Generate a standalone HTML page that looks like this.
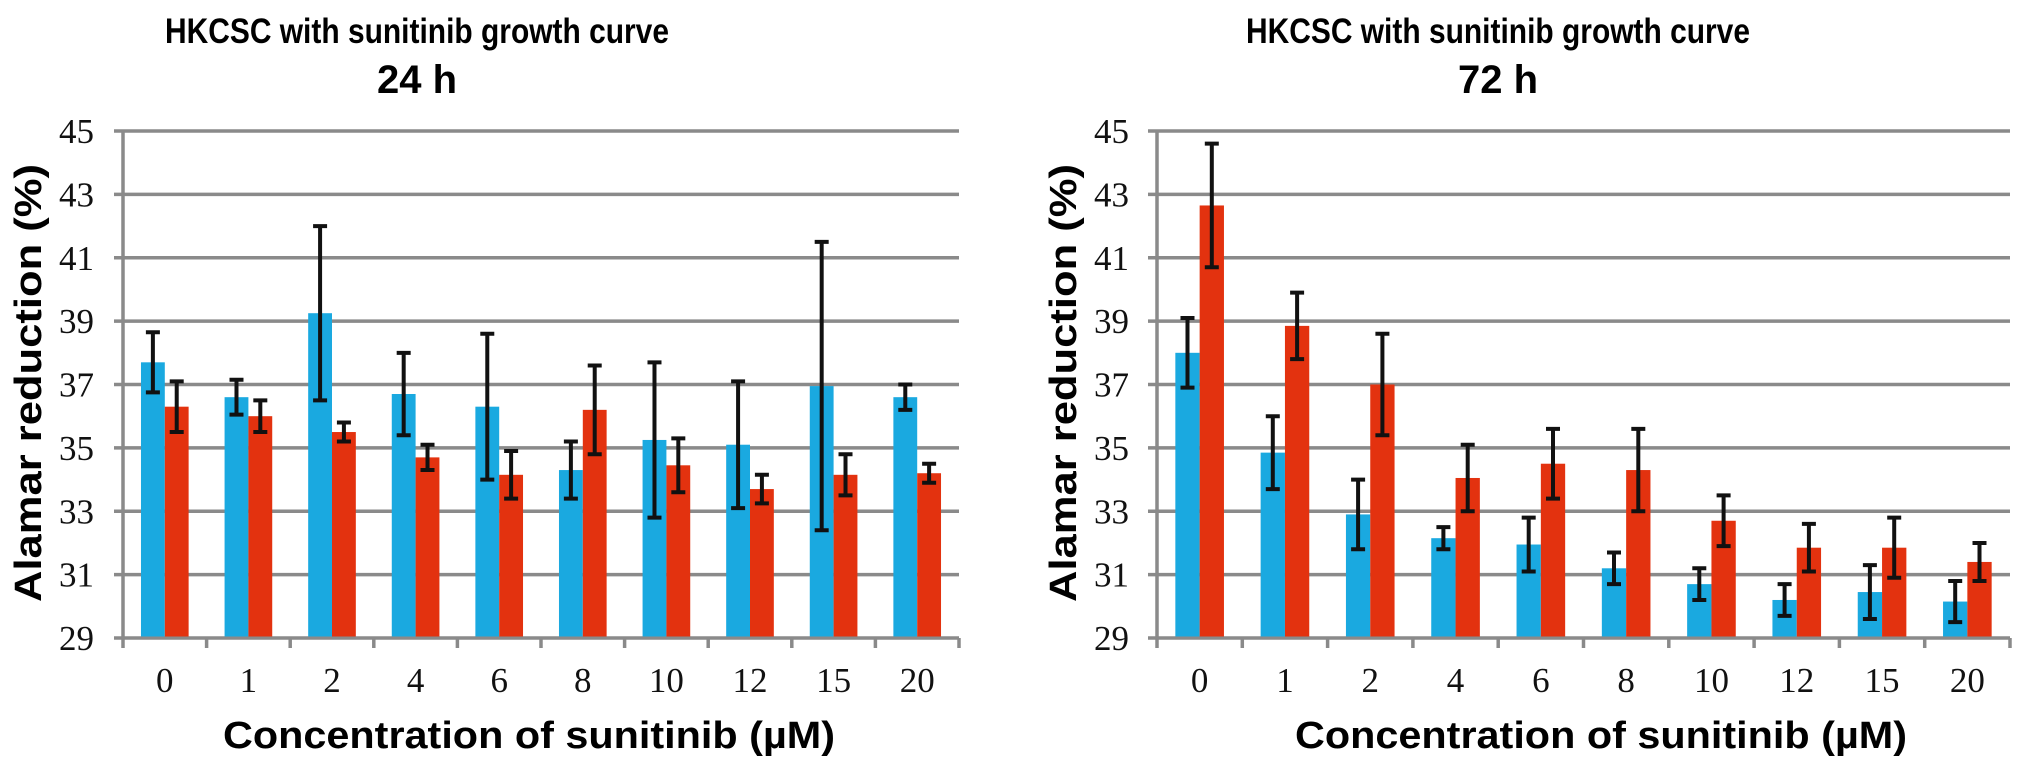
<!DOCTYPE html>
<html><head><meta charset="utf-8"><style>
html,body{margin:0;padding:0;background:#fff;}
svg{display:block;}
.t{font-family:"Liberation Sans",Arial,sans-serif;font-weight:bold;fill:#000;}
.n{font-family:"Liberation Serif","Times New Roman",serif;fill:#111;font-size:35px;}
</style></head><body>
<svg id="svg" width="2031" height="767" viewBox="0 0 2031 767">
</svg>
<script>
const categories = ["0","1","2","4","6","8","10","12","15","20"];
const yTicks = [29,31,33,35,37,39,41,43,45];
const blue24 = [37.7,36.6,39.25,36.7,36.3,34.3,35.25,35.1,36.95,36.6];
const blue24Err = [0.95,0.55,2.75,1.3,2.3,0.9,2.45,2.0,4.55,0.4];
const red24 = [36.3,36.0,35.5,34.7,34.15,36.2,34.45,33.7,34.15,34.2];
const red24Err = [0.8,0.5,0.3,0.4,0.75,1.4,0.85,0.45,0.65,0.3];
const blue72 = [38.0,34.85,32.9,32.15,31.95,31.2,30.7,30.2,30.45,30.15];
const blue72Err = [1.1,1.15,1.1,0.35,0.85,0.5,0.5,0.5,0.85,0.65];
const red72 = [42.65,38.85,37.0,34.05,34.5,34.3,32.7,31.85,31.85,31.4];
const red72Err = [1.95,1.05,1.6,1.05,1.1,1.3,0.8,0.75,0.95,0.6];

const NS="http://www.w3.org/2000/svg";
const svg=document.getElementById('svg');
function mk(tag,attrs,parent){const e=document.createElementNS(NS,tag);for(const k in attrs)e.setAttribute(k,attrs[k]);(parent||svg).appendChild(e);return e;}

function chart(cfg){
  const g=mk('g',{});
  
  
  const x0=cfg.x0,x1=cfg.x1,yTop=131,yBot=638,vmin=29,vmax=45;
  const y=v=>yBot-(v-vmin)/(vmax-vmin)*(yBot-yTop);
  const cw=(x1-x0)/categories.length;
  const xc=i=>x0+cw*i;
  yTicks.forEach(v=>{
    const l=mk('line',{x1:x0-9,x2:x1,y1:y(v),y2:y(v),stroke:'#8a8a8a','stroke-width':3.5},g);
    
    
    const t=mk('text',{x:cfg.labRight,y:y(v)+12,'text-anchor':'end',class:'n'},g);
    t.textContent=v;
    
    
  });
  const ax=mk('line',{x1:x0,x2:x0,y1:yTop,y2:yBot,stroke:'#8a8a8a','stroke-width':3.5},g);
  
  
  for(let i=0;i<=categories.length;i++){
    const tk=mk('line',{x1:xc(i),x2:xc(i),y1:yBot,y2:yBot+10,stroke:'#8a8a8a','stroke-width':3.5},g);
    
    
  }
  const bw=cw*0.285, off=(cw-2*bw)/2;
  categories.forEach((c,i)=>{
    const t=mk('text',{x:xc(i)+cw/2,y:692,'text-anchor':'middle',class:'n'},g);
    t.textContent=c;
    
    
    [[cfg.b,cfg.be,'#1aa9e0',0],[cfg.r,cfg.re,'#e3320f',1]].forEach(([vals,errs,col,k])=>{
      const bx=xc(i)+off+k*bw;
      const r=mk('rect',{x:bx,y:y(vals[i]),width:bw,height:yBot-y(vals[i])-1.5,fill:col},g);
      
      
      const cx=bx+bw/2, hi=y(vals[i]+errs[i]), lo=y(vals[i]-errs[i]);
      const eb=mk('path',{d:`M${cx},${hi}V${lo}M${cx-7},${hi}H${cx+7}M${cx-7},${lo}H${cx+7}`,stroke:'#111','stroke-width':4,fill:'none'},g);
      
      
    });
  });
  const t1=mk('text',{x:cfg.tc,y:43,'text-anchor':'middle',class:'t','font-size':35,textLength:504,lengthAdjust:'spacingAndGlyphs'},g);
  t1.textContent='HKCSC with sunitinib growth curve';
  
  
  const t2=mk('text',{x:cfg.tc,y:93,'text-anchor':'middle',class:'t','font-size':40},g);
  t2.textContent=cfg.sub;
  
  
  const yl=mk('text',{x:0,y:0,'text-anchor':'middle',class:'t','font-size':38,textLength:438,lengthAdjust:'spacingAndGlyphs',transform:`translate(${cfg.ylx},383) rotate(-90)`},g);
  yl.textContent='Alamar reduction (%)';
  
  
  const xl=mk('text',{x:cfg.xlc,y:748,'text-anchor':'middle',class:'t','font-size':38,textLength:612,lengthAdjust:'spacingAndGlyphs'},g);
  xl.textContent='Concentration of sunitinib (\u00b5M)';
  
  
}
chart({name:'chart-24h',x0:123,x1:959,labRight:94,b:blue24,be:blue24Err,r:red24,re:red24Err,tc:417,sub:'24 h',ylx:41,xlc:529});
chart({name:'chart-72h',x0:1157,x1:2010,labRight:1129,b:blue72,be:blue72Err,r:red72,re:red72Err,tc:1498,sub:'72 h',ylx:1076,xlc:1601});
</script>
</body></html>
